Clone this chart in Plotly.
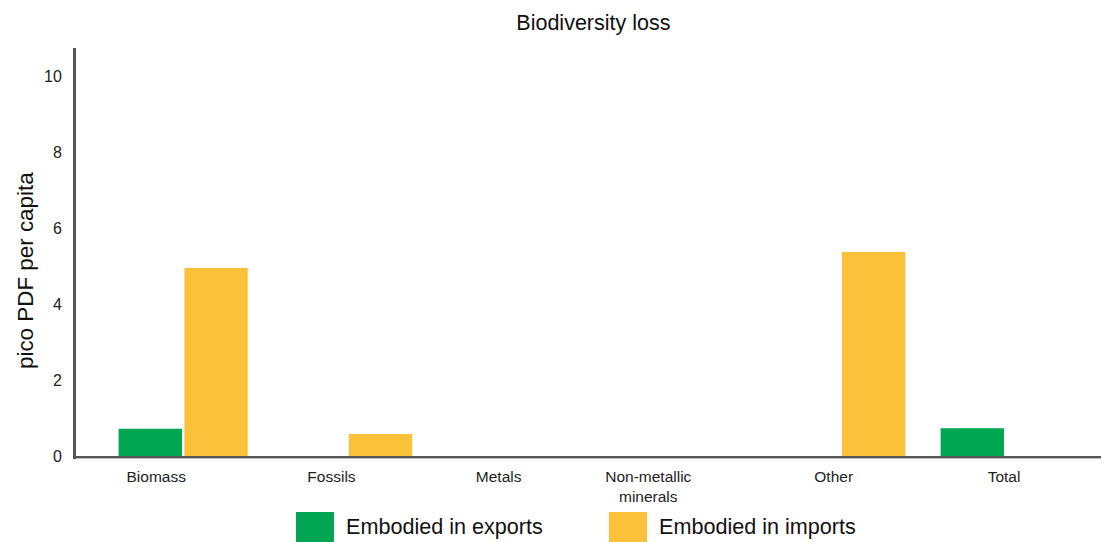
import plotly.graph_objects as go

# Biodiversity loss embodied in trade, by material category
categories = ["Biomass", "Fossils", "Metals", "Non-metallic<br>minerals", "Other", "Total"]
exports = [0.72, 0, 0, 0, 0, 0.73]
imports = [4.95, 0.58, 0, 0, 5.37, None]

series_names = ["Embodied in exports", "Embodied in imports"]
colors = ["#00a651", "#fcc13a"]

# horizontal nudge for each category label (in category units)
label_shift = [-0.164, -0.098, -0.081, -0.171, -0.043, -0.007]

FONT = "Liberation Sans, Arial, Helvetica, sans-serif"
W, H = 1102, 542
M_L, M_R, M_T, M_B = 76, 1, 48, 86
plot_w = W - M_L - M_R
plot_h = H - M_T - M_B

positions = list(range(len(categories)))

fig = go.Figure()
for name, vals, col in zip(series_names, [exports, imports], colors):
    fig.add_trace(go.Bar(
        x=positions, y=vals, name=name,
        marker=dict(color=col, line=dict(width=0)),
        showlegend=False,
    ))


def px_x(px):
    return (px - M_L) / plot_w


def px_y(py):
    return (H - M_B - py) / plot_h


# legend swatches and labels
shapes = []
annotations = []
for col, name, (x0, x1, tx) in zip(colors, series_names,
                                   [(296, 334, 344), (609, 647, 657)]):
    shapes.append(dict(type="rect", xref="paper", yref="paper",
                       x0=px_x(x0), x1=px_x(x1), y0=px_y(512), y1=px_y(550),
                       fillcolor=col, line=dict(width=0), layer="above"))
    annotations.append(dict(text=name, xref="paper", yref="paper",
                            x=px_x(tx), y=px_y(526.5), xanchor="left", yanchor="middle",
                            showarrow=False, font=dict(family=FONT, size=21.6, color="#111")))

# faint line under the baseline
shapes.append(dict(type="line", xref="paper", yref="paper",
                   x0=0, x1=1, y0=px_y(458.6), y1=px_y(458.6),
                   line=dict(color="#c8c8c8", width=1)))

annotations.append(dict(text="pico PDF per capita", xref="paper", yref="paper",
                        x=px_x(25), y=px_y(271), xanchor="center", yanchor="middle",
                        textangle=-90, showarrow=False,
                        font=dict(family=FONT, size=22.4, color="#111")))

fig.update_layout(
    width=W, height=H,
    margin=dict(l=M_L, r=M_R, t=M_T, b=M_B, pad=0),
    paper_bgcolor="white", plot_bgcolor="white",
    barmode="group", bargap=0.2, bargroupgap=0.0365,
    title=dict(text="Biodiversity loss", x=593.4 / W, xref="container", xanchor="center",
               y=1 - 22.5 / H, yref="container", yanchor="middle",
               font=dict(family=FONT, size=21.5, color="#111")),
    font=dict(family=FONT, color="#222"),
    shapes=shapes,
    annotations=annotations,
    showlegend=False,
)

fig.update_xaxes(
    range=[-0.652, 5.583],
    tickvals=[p + s for p, s in zip(positions, label_shift)],
    ticktext=categories,
    showgrid=False, zeroline=False,
    showline=True, linecolor="#555", linewidth=3,
    ticks="outside", ticklen=4, tickcolor="rgba(0,0,0,0)",
    tickfont=dict(family=FONT, size=15.5, color="#222"),
)
fig.update_yaxes(
    range=[0, 10.74],
    tickvals=[0, 2, 4, 6, 8, 10],
    showgrid=False, zeroline=False,
    showline=True, linecolor="#555", linewidth=3,
    ticks="outside", ticklen=8, tickcolor="rgba(0,0,0,0)",
    tickfont=dict(family=FONT, size=16, color="#222"),
)

fig.write_html("out.html")
